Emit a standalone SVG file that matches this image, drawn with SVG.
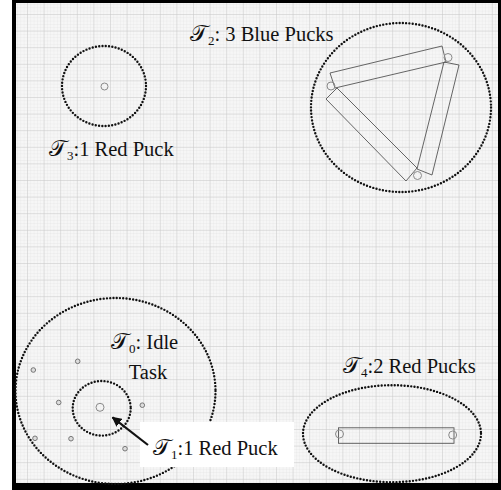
<svg xmlns="http://www.w3.org/2000/svg" width="501" height="490" viewBox="0 0 501 490">
<style>
.lbl{font-family:"Liberation Serif","Times New Roman",serif;font-size:20.5px;fill:#111}
.cal{font-family:"DejaVu Serif","DejaVu Sans","Noto Sans",serif;font-size:23px}
.sub{font-size:13px}
.dot{fill:none;stroke:#111;stroke-width:2.4;stroke-linecap:round;stroke-dasharray:0 3.3}
.puck{fill:none;stroke:#8a8a8a;stroke-width:1}
.spuck{fill:#ddd;stroke:#777;stroke-width:1}
.bar{fill:none;stroke:#555;stroke-width:0.9}
</style>
<defs>
<pattern id="minor" patternUnits="userSpaceOnUse" x="10.4" y="-2.6" width="3.32" height="3.32">
<path d="M0 0H3.32M0 0V3.32" stroke="#e2e2e2" stroke-width="0.6" fill="none"/>
</pattern>
<pattern id="major" patternUnits="userSpaceOnUse" x="10.4" y="-2.6" width="16.6" height="16.6">
<path d="M0 0H16.6M0 0V16.6" stroke="#c6c6c6" stroke-width="0.9" fill="none"/>
</pattern>
<marker id="ah" viewBox="0 0 10 10" refX="9" refY="5" markerWidth="4.5" markerHeight="4.5" orient="auto" markerUnits="strokeWidth">
<path d="M0 0L10 5L0 10z" fill="#111"/>
</marker>
</defs>
<rect x="12" y="0" width="489" height="490" fill="#000"/>
<rect x="16" y="3" width="482" height="480" fill="#f6f6f6"/>
<rect x="16" y="3" width="482" height="480" fill="url(#minor)"/>
<rect x="16" y="3" width="482" height="480" fill="url(#major)"/>

<g id="T3">
<ellipse class="dot" cx="104" cy="86" rx="42" ry="40"/>
<circle class="puck" cx="104.5" cy="86.5" r="3.5"/>
<text class="lbl" x="49" y="156"><tspan class="cal">𝒯</tspan><tspan class="sub" dy="4">3</tspan><tspan dy="-4">:1 Red Puck</tspan></text>
</g>

<g id="T2">
<ellipse class="dot" cx="401" cy="107.5" rx="90" ry="84.5"/>
<polygon class="bar" points="330,73 442,46 446,62 335,88"/>
<polygon class="bar" points="444,62 459,65 432,175 417,169"/>
<polygon class="bar" points="326,99 406,181 417,168 337,88"/>
<circle class="puck" cx="331" cy="86" r="4"/>
<circle class="puck" cx="448" cy="57.5" r="4"/>
<circle class="puck" cx="417.5" cy="175.5" r="4"/>
<text class="lbl" x="190" y="41"><tspan class="cal">𝒯</tspan><tspan class="sub" dy="4">2</tspan><tspan dy="-4">: 3 Blue Pucks</tspan></text>
</g>

<g id="T0">
<ellipse class="dot" cx="115.5" cy="391" rx="100" ry="93"/>
<circle class="spuck" cx="33.3" cy="370" r="2.3"/>
<circle class="spuck" cx="77.7" cy="361.3" r="2.3"/>
<circle class="spuck" cx="58.7" cy="402.5" r="2.3"/>
<circle class="spuck" cx="142.3" cy="405.2" r="2.3"/>
<circle class="spuck" cx="35" cy="438.3" r="2.3"/>
<circle class="spuck" cx="71" cy="438.7" r="2.3"/>
<circle class="spuck" cx="125" cy="448.7" r="2.3"/>
<text class="lbl" x="111" y="349"><tspan class="cal">𝒯</tspan><tspan class="sub" dy="4">0</tspan><tspan dy="-4">: Idle</tspan></text>
<text class="lbl" x="148" y="379" text-anchor="middle">Task</text>
</g>

<g id="T1">
<ellipse class="dot" cx="101.7" cy="408.3" rx="29" ry="27.3"/>
<circle class="puck" cx="100" cy="407.3" r="4"/>
<rect x="140" y="422" width="154" height="45" fill="#fff"/>
<text class="lbl" x="153" y="455"><tspan class="cal">𝒯</tspan><tspan class="sub" dy="4">1</tspan><tspan dy="-4">:1 Red Puck</tspan></text>
</g>

<g id="T4">
<ellipse class="dot" cx="392" cy="433.7" rx="89" ry="48.5"/>
<rect class="bar" x="338.5" y="427.8" width="115.5" height="15.5" stroke="#888"/>
<circle class="puck" cx="339.5" cy="434" r="4"/>
<circle class="puck" cx="452.7" cy="435" r="4"/>
<text class="lbl" x="343" y="372.5"><tspan class="cal">𝒯</tspan><tspan class="sub" dy="4">4</tspan><tspan dy="-4">:2 Red Pucks</tspan></text>
</g>

<g id="connectors">
<line x1="148" y1="445" x2="112.5" y2="417.3" stroke="#111" stroke-width="2.2" marker-end="url(#ah)"/>
</g>
</svg>
